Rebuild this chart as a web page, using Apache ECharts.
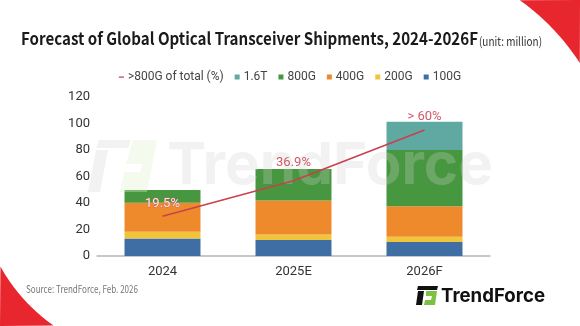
<!DOCTYPE html>
<html><head><meta charset="utf-8">
<script src="https://cdn.jsdelivr.net/npm/echarts@6/dist/echarts.min.js"></script>
<style>html,body{margin:0;padding:0;background:#fff}#c{width:580px;height:326px}</style>
</head><body><div id="c"></div>
<script>
// ---- data ----
const categories = ['2024', '2025E', '2026F'];
const v100G = [13.3, 12.1, 10.5];
const v200G = [5.0, 4.2, 4.1];
const v400G = [21.9, 25.5, 22.9];
const v800G = [9.6, 23.9, 42.5];
const v16T = [0, 0, 21.4];
const shareOver800G = [19.5, 36.9, 61.8];
const shareLabels = ['19.5%', '36.9%', '> 60%'];
const yMin = 0, yMax = 120, yInterval = 20;
const titleText = 'Forecast of Global Optical Transceiver Shipments, 2024-2026F';
const unitText = '(unit: million)';
const sourceText = 'Source: TrendForce, Feb. 2026';

const C = {
  t16: '#5fa9a2', g800: '#46973f', g400: '#ee8a2b', g200: '#f0c53a', g100: '#3e6ea3',
  line: '#c8414e', lbl: '#d05a66', red: '#e8262e'
};

const ctx = document.createElement('canvas').getContext('2d');
function measure(text, font) { ctx.font = font; return ctx.measureText(text).width; }
const CJK = '"Noto Sans CJK SC"';
function fitScale(text, weight, size, fam, target) {
  return target / measure(text, `${weight} ${size}px ${fam}`);
}
const titleSize = 17, unitSize = 12, srcSize = 11;
const titleSX = fitScale(titleText, 'bold', titleSize, CJK, 457);
const unitSX = fitScale(unitText, 'normal', unitSize, CJK, 63);
const srcSX = fitScale(sourceText, 'normal', srcSize, CJK, 112);
const wmSX = fitScale('TrendForce', 'bold', 58, 'Inter', 326);
const logoSX = fitScale('TrendForce', 'bold', 19, 'Inter', 104);

function cornerPoly(cx, cy, r, a0, a1, extra) {
  const pts = [];
  const n = 40;
  for (let i = 0; i <= n; i++) {
    const a = a0 + (a1 - a0) * i / n;
    pts.push([cx + r * Math.cos(a), cy + r * Math.sin(a)]);
  }
  return pts.concat(extra);
}
const deg = Math.PI / 180;
const topRight = cornerPoly(385, 189, 232, -54.5 * deg, -32.9 * deg, [[580, 0]]);
const botLeft = cornerPoly(156, 180, 178, 150.9 * deg, 125.2 * deg, [[0, 326]]);

const chart = echarts.init(document.getElementById('c'), null, { renderer: 'canvas' });

const barCommon = { type: 'bar', stack: 'total', barWidth: '58%', yAxisIndex: 0 };
const lineIcon = 'path://M0,0M0,4L10,4L10,6.5L0,6.5ZM10,10';
const wmGray = 'rgba(210,210,210,0.28)';
const labelTweaks = [
  { color: '#fbe6e2', textBorderColor: C.lbl, textBorderWidth: 0.8 },
  { offset: [0, -5] },
  {}
];

chart.setOption({
  animation: false,
  backgroundColor: '#fff',
  grid: { left: 97, right: 90, top: 97, bottom: 70 },
  legend: {
    top: 66, left: 'center',
    itemWidth: 5, itemHeight: 5, itemGap: 11,
    textStyle: { fontFamily: 'Roboto', fontSize: 12, color: '#444', padding: [0, 0, 0, -1] },
    data: [
      { name: '>800G of total (%)', icon: lineIcon, itemStyle: { color: C.line, opacity: 1 } },
      { name: '1.6T', icon: 'rect' }, { name: '800G', icon: 'rect' }, { name: '400G', icon: 'rect' },
      { name: '200G', icon: 'rect' }, { name: '100G', icon: 'rect' }
    ]
  },
  xAxis: {
    type: 'category', data: categories,
    axisLine: { lineStyle: { color: '#b5b5b5', width: 1.5 } },
    axisTick: { show: false },
    axisLabel: { fontFamily: 'Roboto', fontSize: 13, color: '#333', margin: 9 }
  },
  yAxis: [
    {
      type: 'value', min: yMin, max: yMax, interval: yInterval,
      axisLine: { show: false }, axisTick: { show: false }, splitLine: { show: false },
      axisLabel: { fontFamily: 'Roboto', fontSize: 13, color: '#333', margin: 7 }
    },
    { type: 'value', min: 0, max: 78, show: false, splitLine: { show: false } }
  ],
  series: [
    Object.assign({ name: '100G', data: v100G, itemStyle: { color: C.g100 } }, barCommon),
    Object.assign({ name: '200G', data: v200G, itemStyle: { color: C.g200 } }, barCommon),
    Object.assign({ name: '400G', data: v400G, itemStyle: { color: C.g400 } }, barCommon),
    Object.assign({ name: '800G', data: v800G, itemStyle: { color: C.g800 } }, barCommon),
    Object.assign({ name: '1.6T', data: v16T, itemStyle: { color: C.t16 } }, barCommon),
    {
      name: '>800G of total (%)', type: 'line', yAxisIndex: 1, z: 60,
      data: shareOver800G.map((v, i) => ({ value: v, label: labelTweaks[i] })),
      symbol: 'circle', symbolSize: 1, itemStyle: { color: 'rgba(0,0,0,0)', borderWidth: 0 },
      lineStyle: { color: C.line, width: 1.6 },
      label: {
        show: true, position: 'top', distance: 6,
        fontFamily: 'Roboto', fontSize: 13, color: C.lbl,
        formatter: p => shareLabels[p.dataIndex]
      }
    }
  ],
  graphic: [
    { type: 'polygon', z: 0, shape: { points: topRight }, style: { fill: C.red } },
    { type: 'polygon', z: 0, shape: { points: botLeft }, style: { fill: C.red } },
    { type: 'text', x: 21, y: 39, scaleX: titleSX, z: 10,
      style: { text: titleText, font: `bold ${titleSize}px ${CJK}`, fill: '#1a1a1a', verticalAlign: 'middle' } },
    { type: 'text', x: 479, y: 41, scaleX: unitSX, z: 10,
      style: { text: unitText, font: `normal ${unitSize}px ${CJK}`, fill: '#333', verticalAlign: 'middle' } },
    { type: 'text', x: 26, y: 289, scaleX: srcSX, z: 10,
      style: { text: sourceText, font: `normal ${srcSize}px ${CJK}`, fill: '#777', verticalAlign: 'middle' } },
    { type: 'polygon', z: 50, shape: { points: [[99,140],[131,140],[128,148],[96,148]] }, style: { fill: wmGray } },
    { type: 'polygon', z: 50, shape: { points: [[96,150],[108,150],[100,192],[88,192]] }, style: { fill: wmGray } },
    { type: 'polygon', z: 50, shape: { points: [[133,140],[157,140],[147,192],[120,192],[124,172],[140,172],[142,164],[126,164]] }, style: { fill: 'rgba(225,240,205,0.35)' } },
    { type: 'text', x: 167, y: 167, scaleX: wmSX, z: 50,
      style: { text: 'TrendForce', font: 'bold 58px Inter', fill: wmGray, verticalAlign: 'middle' } },
    { type: 'polygon', z: 10, shape: { points: [[418,286],[438,286],[437,290],[417,290]] }, style: { fill: '#111' } },
    { type: 'polygon', z: 10, shape: { points: [[418,291],[424,291],[422,305],[416,305]] }, style: { fill: '#111' } },
    { type: 'polygon', z: 10, shape: { points: [[426,291],[437,291],[435,305],[424,305],[425,300],[431,300],[432,296],[426,296]] }, style: { fill: '#7cc242' } },
    { type: 'text', x: 441, y: 296, scaleX: logoSX, z: 10,
      style: { text: 'TrendForce', font: 'bold 19px Inter', fill: '#111', verticalAlign: 'middle' } }
  ]
});
</script>
</body></html>
